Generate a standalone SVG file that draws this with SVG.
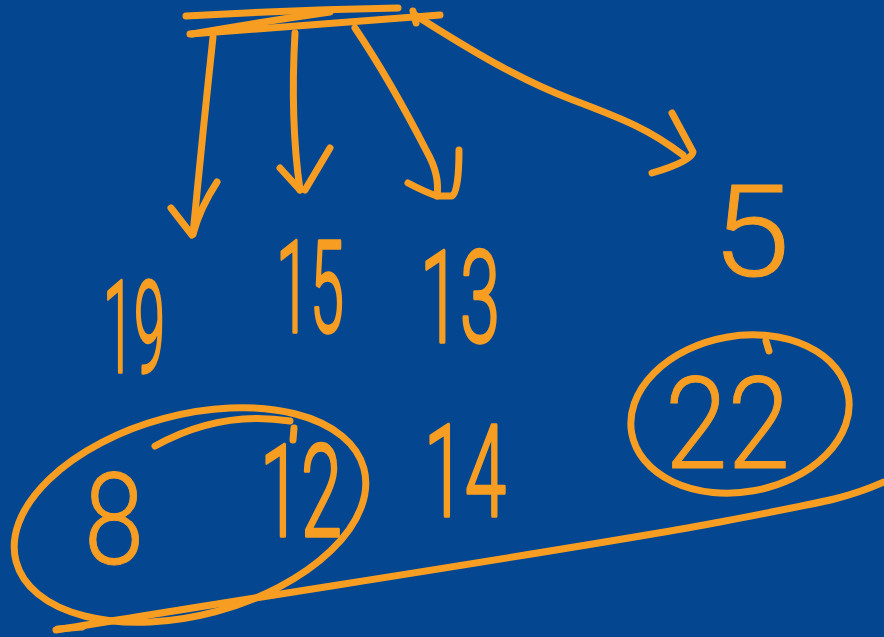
<svg xmlns="http://www.w3.org/2000/svg" width="884" height="637" viewBox="0 0 884 637">
<style>
.s{fill:none;stroke:#F79E22;stroke-linecap:round;stroke-linejoin:round;stroke-width:7}
.t{font-family:Roboto,"Liberation Sans",sans-serif;font-weight:300;font-size:128px;fill:#F79E22;stroke:#F79E22;stroke-width:3.5;stroke-linejoin:round}
.w{stroke-width:1}
</style>
<rect width="884" height="637" fill="#04468F"/>
<g id="root">
<path class="s" d="M186 16 Q290 10 398 8" stroke-width="10"/>
<path class="s" d="M192 34 Q260 22 330 12"/>
<path class="s" d="M190 34 Q320 24 440 15" stroke-width="10"/>
<path class="s" d="M413 11 L416 23"/>
</g>
<g id="connectors">
<path class="s" d="M213 37 Q203 130 193 234"/>
<path class="s" d="M171 208 L192 235 M217 182 Q200 208 193 234"/>
<path class="s" d="M295 33 Q290 120 300 190"/>
<path class="s" d="M280 168 L300 190 M330 148 L305 190"/>
<path class="s" d="M355 28 Q390 80 427 152 Q440 175 437 196"/>
<path class="s" d="M408 183 Q425 192 437 196 L452 196 Q459 192 459 150"/>
<path class="s" d="M415 15 C470 50 520 80 573 100 S650 130 683 155"/>
<path class="s" d="M672 113 L693 152 Q692 161 652 173"/>
</g>
<g id="n19"><text class="t" x="103" y="372" textLength="62" lengthAdjust="spacingAndGlyphs">19</text></g>
<g id="n15"><text class="t" x="276" y="332" textLength="68" lengthAdjust="spacingAndGlyphs">15</text></g>
<g id="n13"><text class="t" x="420" y="342" textLength="80" lengthAdjust="spacingAndGlyphs">13</text></g>
<g id="n5"><text class="t w" x="712" y="276" textLength="78" lengthAdjust="spacingAndGlyphs">5</text></g>
<g id="group812">
<ellipse class="s" cx="190" cy="515" rx="180" ry="100" transform="rotate(-15 190 515)"/>
<path class="s" d="M155 446 Q220 410 290 421" stroke-width="6"/>
<path class="s" d="M294 428 L293 440" stroke-width="5"/>
<text class="t w" x="84" y="564" textLength="60" lengthAdjust="spacingAndGlyphs">8</text>
<text class="t" x="260" y="536" textLength="82" lengthAdjust="spacingAndGlyphs">12</text>
</g>
<g id="n14"><text class="t" x="424" y="516" textLength="82" lengthAdjust="spacingAndGlyphs">14</text></g>
<g id="group22">
<ellipse class="s" cx="740" cy="414" rx="110" ry="78" transform="rotate(-10 740 414)" stroke-width="6"/>
<path class="s" d="M766 341 L769 351" stroke-width="5"/>
<text class="t w" x="665" y="468" textLength="125" lengthAdjust="spacingAndGlyphs">22</text>
</g>
<g id="underline">
<path class="s" d="M56 630 C300 590 600 545 720 522 S850 497 884 482"/>
<path class="s" d="M58 629 L82 627" stroke-width="13"/>
</g>
</svg>
